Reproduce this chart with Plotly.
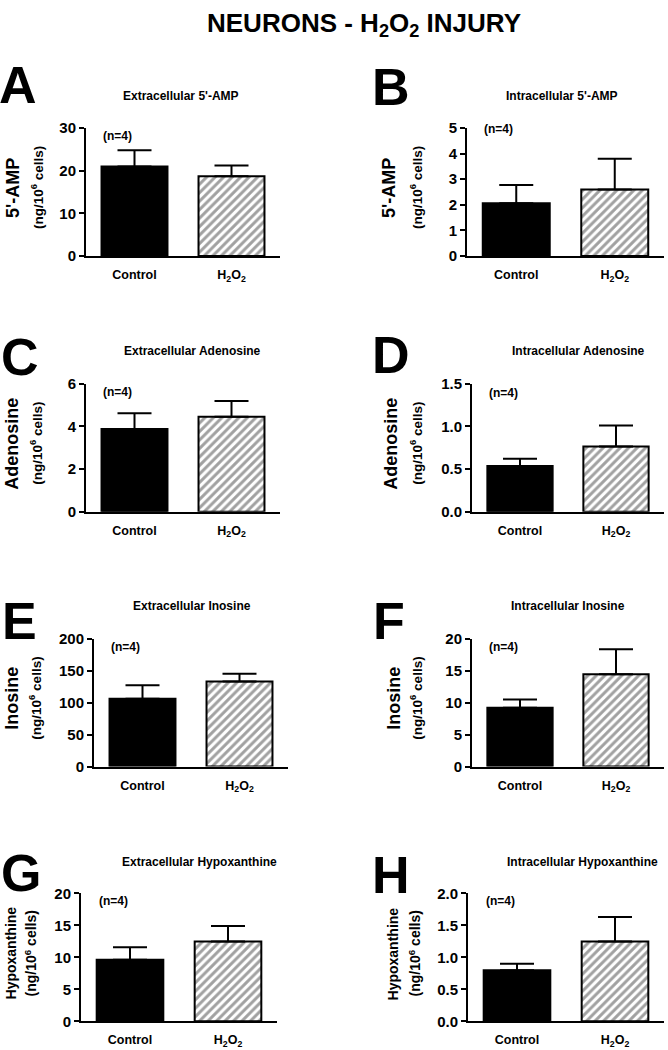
import plotly.graph_objects as go

W, H = 668, 1050

groups = ["Control", "H2O2"]
group_labels = ["Control", "H<sub>2</sub>O<sub>2</sub>"]
panel_letters = ["A", "B", "C", "D", "E", "F", "G", "H"]
panel_titles = [
    "Extracellular 5'-AMP", "Intracellular 5'-AMP",
    "Extracellular Adenosine", "Intracellular Adenosine",
    "Extracellular Inosine", "Intracellular Inosine",
    "Extracellular Hypoxanthine", "Intracellular Hypoxanthine",
]
y_names = ["5'-AMP", "5'-AMP", "Adenosine", "Adenosine",
           "Inosine", "Inosine", "Hypoxanthine", "Hypoxanthine"]
control_mean = [21.0, 2.06, 3.88, 0.535, 106, 9.2, 9.64, 0.80]
control_sem = [3.8, 0.71, 0.74, 0.085, 21, 1.3, 1.96, 0.10]
h2o2_mean = [18.7, 2.60, 4.46, 0.765, 133, 14.45, 12.5, 1.25]
h2o2_sem = [2.5, 1.20, 0.74, 0.245, 12, 3.9, 2.4, 0.38]
y_max = [30, 5, 6, 1.5, 200, 20, 20, 2.0]
y_dtick = [10, 1, 2, 0.5, 50, 5, 5, 0.5]
y_fmt = ["d", "d", "d", ".1f", "d", "d", "d", ".1f"]
n_label = "(n=4)"

# layout geometry in pixels: (x0, x1, ytop, ybottom)
boxes = [
    (86, 280, 121, 251), (467, 664, 121, 251),
    (86, 280, 381, 511), (472, 664, 381, 511),
    (94, 288, 640, 770), (472, 664, 640, 770),
    (81, 277, 899, 1029), (468, 664, 899, 1029),
]
title_pos = [(181, 88), (562, 88), (193, 348), (578, 348),
             (192, 607), (568, 607), (199, 867), (582, 867)]
letter_pos = [(18, 77), (391, 79), (20, 354), (391, 352),
              (19, 622), (389, 622), (21, 878), (391, 880)]
ytitle_x = [(13, 37), (389, 416), (12, 36), (391, 416),
            (12, 35), (394, 416), (11, 31), (393, 415)]
n_pos = [(117, 129), (498, 122), (117, 389), (504, 390),
         (126, 648), (504, 648), (113, 907), (500, 907)]

FONT = "Liberation Sans, Arial, sans-serif"


def px(x):
    return x / W


def py(y):
    return 1 - y / H


fig = go.Figure()
annotations = []

for i in range(8):
    x0, x1, yt, yb = boxes[i]
    sfx = "" if i == 0 else str(i + 1)
    fig.add_trace(go.Bar(
        x=groups,
        y=[control_mean[i], h2o2_mean[i]],
        width=0.68,
        marker=dict(
            color=["black", "white"],
            line=dict(color="black", width=2),
            pattern=dict(shape=["", "/"], fgcolor="black", bgcolor="white",
                         size=6, solidity=0.5),
        ),
        error_y=dict(type="data", symmetric=False,
                     array=[control_sem[i], h2o2_sem[i]],
                     arrayminus=[0, 0], color="black", thickness=2, width=17),
        xaxis="x" + sfx, yaxis="y" + sfx, showlegend=False,
    ))
    fig.update_layout(**{
        "xaxis" + sfx: dict(
            domain=[px(x0), px(x1)], anchor="y" + sfx,
            range=[-0.5, 1.5], tickvals=groups, ticktext=group_labels,
            showline=True, linecolor="black", linewidth=2, ticks="",
            showgrid=False, zeroline=False, ticklabelstandoff=6,
            tickfont=dict(family=FONT, size=12.5, color="black", weight="bold"),
            fixedrange=True,
        ),
        "yaxis" + sfx: dict(
            domain=[py(yb), py(yt)], anchor="x" + sfx,
            range=[0, y_max[i]], dtick=y_dtick[i], tick0=0,
            tickformat=y_fmt[i],
            showline=True, linecolor="black", linewidth=2,
            ticks="outside", ticklen=5, tickwidth=2, tickcolor="black",
            showgrid=False, zeroline=False,
            tickfont=dict(family=FONT, size=15, color="black", weight="bold"),
            fixedrange=True,
        ),
    })
    tx, ty = title_pos[i]
    annotations.append(dict(text="<b>%s</b>" % panel_titles[i], x=px(tx), y=py(ty),
                            xref="paper", yref="paper", showarrow=False,
                            xanchor="center", yanchor="middle",
                            font=dict(family=FONT, size=12, color="black")))
    lx, ly = letter_pos[i]
    annotations.append(dict(text="<b>%s</b>" % panel_letters[i], x=px(lx), y=py(ly),
                            xref="paper", yref="paper", showarrow=False,
                            xanchor="center", yanchor="middle",
                            font=dict(family=FONT, size=52, color="black")))
    ycen = (yt + yb) / 2 - 4
    big = 14 if i >= 6 else 18
    small = 14 if i >= 6 else 13.5
    a, b = ytitle_x[i]
    annotations.append(dict(text="<b>%s</b>" % y_names[i], x=px(a), y=py(ycen),
                            xref="paper", yref="paper", showarrow=False,
                            textangle=-90, xanchor="center", yanchor="middle",
                            font=dict(family=FONT, size=big, color="black")))
    annotations.append(dict(text="<b>(ng/10<sup>6</sup> cells)</b>", x=px(b), y=py(ycen),
                            xref="paper", yref="paper", showarrow=False,
                            textangle=-90, xanchor="center", yanchor="middle",
                            font=dict(family=FONT, size=small, color="black")))
    nx, ny = n_pos[i]
    annotations.append(dict(text="<b>%s</b>" % n_label, x=px(nx), y=py(ny),
                            xref="paper", yref="paper", showarrow=False,
                            xanchor="center", yanchor="middle",
                            font=dict(family=FONT, size=12, color="black")))

annotations.append(dict(text="<b>NEURONS - H<sub>2</sub>O<sub>2</sub> INJURY</b>",
                        x=px(364), y=py(16), xref="paper", yref="paper",
                        showarrow=False, xanchor="center", yanchor="middle",
                        font=dict(family=FONT, size=26, color="black")))

fig.update_layout(
    width=W, height=H,
    margin=dict(l=0, r=0, t=0, b=0),
    paper_bgcolor="white", plot_bgcolor="white",
    annotations=annotations,
    bargap=0.3,
)

fig.write_html(
    "out.html",
    config={"displayModeBar": False},
    post_script="document.body.style.margin='0';document.body.style.overflow='hidden';",
)
